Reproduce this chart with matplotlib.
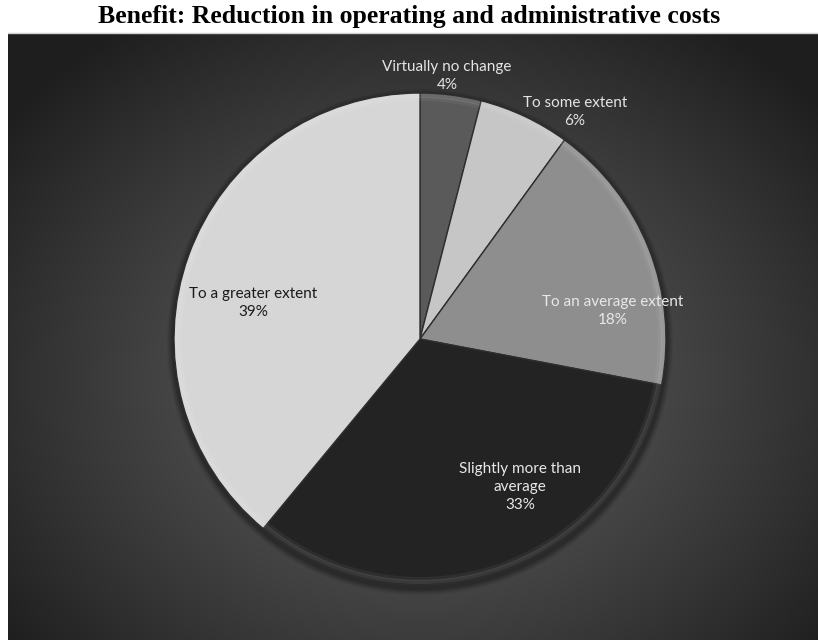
import numpy as np
import matplotlib.pyplot as plt
from matplotlib.patches import Circle

categories = ["Virtually no change", "To some extent", "To an average extent",
              "Slightly more than average", "To a greater extent"]
shares = [4, 6, 18, 33, 39]
label_text = ["Virtually no change", "To some extent", "To an average extent",
              "Slightly more than\naverage", "To a greater extent"]

slice_colors = ["#5a5a5a", "#c6c6c6", "#8e8e8e", "#232323", "#d6d6d6"]
text_colors = ["#e4e4e4", "#e4e4e4", "#e8e8e8", "#e8e8e8", "#1a1a1a"]

W, H = 818, 640
# layout in pixel units (y measured from top)
pie_cx, pie_cy, pie_r = 420, 339, 246
label_xy = [(447, 76), (575, 112), (613, 311), (520, 487), (253, 303)]

fig = plt.figure(figsize=(W / 100, H / 100), dpi=100)
fig.patch.set_facecolor("white")
ax = fig.add_axes([0, 0, 1, 1])
ax.set_xlim(0, W)
ax.set_ylim(0, H)
ax.axis("off")

# radial gradient panel
panel_top = 33
gx, gy = np.meshgrid(np.linspace(8, W, 400), np.linspace(H - panel_top, 0, 300))
d = np.sqrt(((gx - 420) / 520) ** 2 + ((gy - (H - 380)) / 430) ** 2)
shade = np.clip(0.36 - 0.24 * d ** 1.3, 0.12, 0.40)
ax.imshow(np.dstack([shade] * 3), extent=(8, W, 0, H - panel_top),
          origin="upper", aspect="auto", zorder=0, interpolation="bicubic")
ax.plot([8, W], [H - panel_top, H - panel_top], color="#cfcfcf", lw=1, zorder=1)

cy = H - pie_cy
# soft shadow under the pie
for k, a in zip(range(6), [0.05, 0.05, 0.06, 0.07, 0.08, 0.1]):
    ax.add_patch(Circle((pie_cx, cy - 3), pie_r + 7 - k, color="black",
                        alpha=a, lw=0, zorder=1))

wedges, _ = ax.pie(shares, colors=slice_colors, startangle=90, counterclock=False,
                   center=(pie_cx, cy), radius=pie_r, frame=True,
                   wedgeprops=dict(edgecolor="#2e2e2e", linewidth=1.0))
for w in wedges:
    w.set_zorder(2)

# faint bevel along the rim
for w in wedges:
    t = np.linspace(np.radians(w.theta1), np.radians(w.theta2), 100)
    for off, a in [(3, 0.10), (6, 0.05)]:
        ax.plot(pie_cx + (pie_r - off) * np.cos(t), cy + (pie_r - off) * np.sin(t),
                color="white", alpha=a, lw=3, zorder=3, solid_capstyle="butt")

ax.set_xlim(0, W)
ax.set_ylim(0, H)
ax.set_aspect("auto")
ax.axis("off")

for txt, val, (lx, ly), tc in zip(label_text, shares, label_xy, text_colors):
    ax.text(lx, H - ly, f"{txt}\n{val}%", ha="center", va="center", color=tc,
            fontsize=11, family="Lato", linespacing=1.4, zorder=5)

fig.text(0.5, 1 - 17 / H, "Benefit: Reduction in operating and administrative costs",
         ha="center", va="center", fontsize=18.5, fontweight="bold",
         family="Liberation Serif")

fig.savefig("out.png", dpi=100)
